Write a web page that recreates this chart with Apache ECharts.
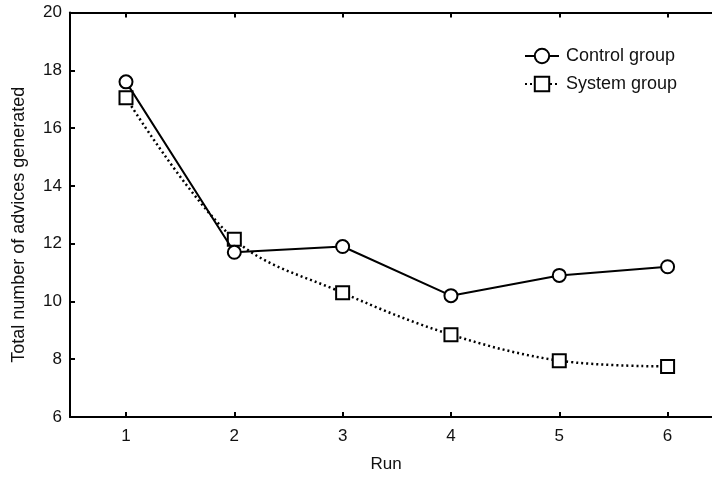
<!DOCTYPE html>
<html>
<head>
<meta charset="utf-8">
<script src="https://cdn.jsdelivr.net/npm/echarts@6/dist/echarts.min.js"></script>
<style>html,body{margin:0;padding:0;background:#fff}#c{width:712px;height:478px}</style>
</head>
<body>
<div id="c"></div>
<script>
var runs = [1, 2, 3, 4, 5, 6];
var controlGroup = [17.6, 11.7, 11.9, 10.2, 10.9, 11.2];
var systemGroup = [17.05, 12.15, 10.3, 8.85, 7.95, 7.75];
var yTicks = [6, 8, 10, 12, 14, 16, 18, 20];

var font = 'Liberation Sans, Arial, sans-serif';
function pairs(xs, ys){ return xs.map(function(x,i){ return [x, ys[i]]; }); }

var chart = echarts.init(document.getElementById('c'));
chart.setOption({
  animation: false,
  backgroundColor: '#fff',
  grid: { left: 70, right: 0, top: 12.5, bottom: 60, containLabel: false },
  legend: {
    orient: 'vertical', left: 519, top: 42, itemGap: 10, itemWidth: 34, itemHeight: 18,
    textStyle: { fontFamily: font, fontSize: 18, color: '#111', padding: [0, 0, 0, 2] },
    data: ['Control group', 'System group']
  },
  xAxis: [{
    type: 'value', min: 0.483, max: 6.41, position: 'bottom',
    name: 'Run', nameLocation: 'middle', nameGap: 39,
    nameTextStyle: { fontFamily: font, fontSize: 17, color: '#111', padding: [0, 10, 0, 0] },
    axisLine: { lineStyle: { color: '#000', width: 2 } },
    axisTick: { inside: true, length: 5, customValues: runs, lineStyle: { color: '#000', width: 2 } },
    axisLabel: { customValues: runs, fontFamily: font, fontSize: 17, color: '#111', margin: 11 },
    splitLine: { show: false }
  }, {
    type: 'value', min: 0.483, max: 6.41, position: 'top',
    axisLine: { lineStyle: { color: '#000', width: 2 } },
    axisTick: { inside: true, length: 5, customValues: runs, lineStyle: { color: '#000', width: 2 } },
    axisLabel: { show: false },
    splitLine: { show: false }
  }],
  yAxis: {
    type: 'value', min: 6, max: 20, interval: 2,
    name: 'Total number of advices generated', nameLocation: 'middle', nameGap: 42,
    nameTextStyle: { fontFamily: font, fontSize: 18, color: '#111', padding: [0, 20, 0, 0] },
    axisLine: { show: true, lineStyle: { color: '#000', width: 2 } },
    axisTick: { inside: true, length: 5, lineStyle: { color: '#000', width: 2 } },
    axisLabel: { fontFamily: font, fontSize: 17, color: '#111', margin: 8 },
    splitLine: { show: false }
  },
  series: [{
    name: 'Control group', type: 'line', data: pairs(runs, controlGroup),
    symbol: 'circle', symbolSize: 13,
    lineStyle: { color: '#000', width: 2 },
    itemStyle: { color: '#fff', borderColor: '#000', borderWidth: 2 }
  }, {
    name: 'System group', type: 'line', data: pairs(runs, systemGroup),
    symbol: 'rect', symbolSize: 13, smooth: 0.35,
    lineStyle: { color: '#000', width: 2.5, type: [2, 3] },
    itemStyle: { color: '#fff', borderColor: '#000', borderWidth: 2 },
    z: 1
  }]
});
</script>
</body>
</html>
